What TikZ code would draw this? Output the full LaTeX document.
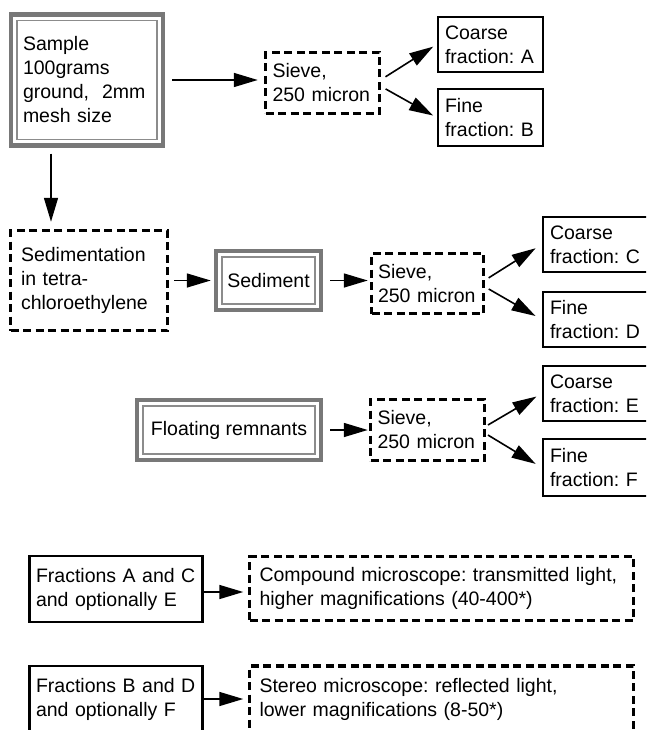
\documentclass[tikz,border=0pt]{standalone}
\usepackage{fontspec}
\setmainfont{Liberation Sans}
\usepackage{tikz}
\usetikzlibrary{arrows.meta,positioning,calc}
\definecolor{boxgray}{RGB}{120,120,120}
\frenchspacing

\begin{document}
\begin{tikzpicture}[x=1pt, y=-1pt,
    base/.style={rectangle, align=left, inner xsep=7pt, inner ysep=0pt,
                 font=\fontsize{19.5}{24}\selectfont},
    doublebox/.style={base, draw=boxgray, line width=4.5pt,
                 path picture={\draw[boxgray!85, line width=1.3pt]
                   ([shift={(6pt,-6pt)}]path picture bounding box.north west) rectangle
                   ([shift={(-6pt,6pt)}]path picture bounding box.south east);}},
    dashbox/.style={base, draw=black, line width=3.5pt, dash pattern=on 8pt off 4.5pt},
    fracbox/.style={base, draw=black, line width=2.8pt},
    arrow/.style={-{Triangle[length=24pt,width=14pt]}, line width=1.6pt}
]
\useasboundingbox (0,0) rectangle (646,730);
\clip (0,0) rectangle (646,730);

\node[doublebox, inner xsep=12pt, text width=128pt, minimum height=131pt] (sample) at (87,80) {Sample\\100grams\\ground,~~2mm\\mesh size};
\node[dashbox, inner xsep=7pt, text width=100pt, minimum height=61pt] (sieveA) at (322.5,83) {Sieve,\\250 micron};
\node[fracbox, text width=91pt, minimum height=55pt] (coarseA) at (490.5,44.5) {Coarse\\fraction: A};
\node[fracbox, text width=91pt, minimum height=57pt] (fineB) at (490.5,117.5) {Fine\\fraction: B};

\node[dashbox, inner xsep=10.5pt, text width=136pt, minimum height=100pt] (sedim) at (89,280.5) {Sedimentation\\in tetra-\\chloroethylene};
\node[doublebox, minimum width=105pt, minimum height=59pt] (sediment) at (268.5,280.5) {Sediment};
\node[dashbox, inner xsep=6.5pt, text width=99pt, minimum height=60pt] (sieveB) at (427.5,283.5) {Sieve,\\250 micron};
\node[fracbox, text width=91pt, minimum height=55pt] (coarseC) at (595.5,244.5) {Coarse\\fraction: C};
\node[fracbox, text width=91pt, minimum height=55pt] (fineD) at (595.5,319.5) {Fine\\fraction: D};

\node[doublebox, minimum width=184pt, minimum height=60pt] (floating) at (229,430) {Floating remnants};
\node[dashbox, inner xsep=7pt, text width=100pt, minimum height=61pt] (sieveC) at (427.5,430) {Sieve,\\250 micron};
\node[fracbox, text width=91pt, minimum height=55pt] (coarseE) at (595.5,393.5) {Coarse\\fraction: E};
\node[fracbox, text width=91pt, minimum height=57pt] (fineF) at (595.5,467.5) {Fine\\fraction: F};

\node[fracbox, inner xsep=6.5pt, text width=160pt, minimum height=66pt] (fracAC) at (116,589) {Fractions A and C\\and optionally E};
\node[dashbox, inner xsep=10pt, text width=364pt, minimum height=64pt] (compound) at (441.5,588.5) {Compound microscope: transmitted light,\\higher magnifications (40-400*)};
\node[fracbox, inner xsep=6.5pt, text width=160pt, minimum height=66pt] (fracBD) at (116,699) {Fractions B and D\\and optionally F};
\node[dashbox, inner xsep=10pt, text width=364pt, minimum height=66pt] (stereo) at (441.5,699) {Stereo microscope: reflected light,\\lower magnifications (8-50*)};

\coordinate (down) at ([xshift=-36pt]sample.south);

\draw[arrow, shorten <=7pt, shorten >=6pt] (sample.east) -- (sample.east -| sieveA.west);
\draw[arrow, shorten <=5pt, shorten >=4pt] ([yshift=3.5pt]sieveA.east) -- (coarseA.west);
\draw[arrow, shorten <=5pt, shorten >=4pt] ([yshift=-3.5pt]sieveA.east) -- (fineB.west);
\draw[arrow, shorten <=6pt, shorten >=7pt] (down) -- (down |- sedim.north);

\draw[arrow, shorten <=5pt, shorten >=3pt] (sedim.east) -- (sediment.west);
\draw[arrow, shorten <=7pt, shorten >=2pt] (sediment.east) -- (sediment.east -| sieveB.west);
\draw[arrow, shorten <=4pt, shorten >=7pt] ([yshift=3.5pt]sieveB.east) -- (coarseC.west);
\draw[arrow, shorten <=4pt, shorten >=7pt] ([yshift=-3.5pt]sieveB.east) -- (fineD.west);

\draw[arrow, shorten <=7pt, shorten >=1pt] (floating.east) -- (floating.east -| sieveC.west);
\draw[arrow, shorten <=2pt, shorten >=6pt] ([yshift=4pt]sieveC.east) -- (coarseE.west);
\draw[arrow, shorten <=2pt, shorten >=7pt] ([yshift=-4pt]sieveC.east) -- (fineF.west);

\draw[arrow, shorten >=4.5pt] ([yshift=-3pt]fracAC.east) -- ([yshift=-3pt]fracAC.east -| compound.west);
\draw[arrow, shorten >=4.5pt] (fracBD.east) -- (fracBD.east -| stereo.west);

\end{tikzpicture}
\end{document}
